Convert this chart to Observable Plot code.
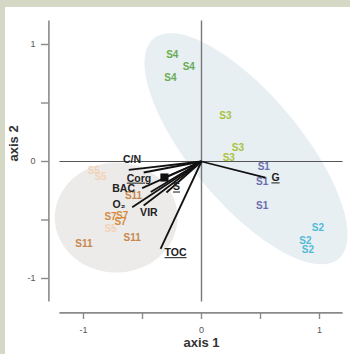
<!DOCTYPE html>
<html>
<head>
<meta charset="utf-8">
<script src="https://cdn.jsdelivr.net/npm/d3@7"></script>
<script src="https://cdn.jsdelivr.net/npm/@observablehq/plot@0.6"></script>
<style>
  html, body { margin: 0; padding: 0; width: 350px; height: 354px; overflow: hidden; background: #d5d8c4; }
  #panel { position: absolute; left: 5px; top: 7px; right: 0; bottom: 0; background: #ffffff; }
  #chart { position: absolute; left: 0; top: 0; }
  #chart svg { background: transparent; }
</style>
</head>
<body>
<div id="panel"></div>
<div id="chart"></div>
<script>
// ---- data ----
const sampleNames = ["S4","S4","S4","S3","S3","S3","S1","S1","S1","S2","S2","S2","S11","S11","S11","S7","S7","S7","S5","S5","S5"];
const sampleGroup = ["S4","S4","S4","S3","S3","S3","S1","S1","S1","S2","S2","S2","S11","S11","S11","S7","S7","S7","S5","S5","S5"];
const sampleX = [-0.248,-0.108,-0.263, 0.203,0.308,0.231, 0.528,0.514,0.514, 0.986,0.881,0.901, -0.576,-0.587,-0.997, -0.771,-0.672,-0.686, -0.913,-0.856,-0.771];
const sampleY = [0.912,0.806,0.715, 0.387,0.117,0.032, -0.049,-0.177,-0.382, -0.567,-0.675,-0.752, -0.291,-0.652,-0.703, -0.476,-0.462,-0.513, -0.077,-0.128,-0.575];
const groupNames = ["S4","S3","S1","S2","S11","S7","S5"];
const groupColors = ["#6aac52","#a8c23e","#6a6eae","#52b9d6","#c8874e","#d68a40","#f2d3b8"];

const vecX = [-0.616,-0.49,-0.314,-0.503,-0.43,-0.587,-0.49,-0.297,-0.347,0.542];
const vecY = [-0.071,-0.094,-0.137,-0.228,-0.26,-0.391,-0.376,-0.265,-0.746,-0.137];

const varNames = ["C/N","Corg","BAC","O₂","VIR","S","TOC","G"];
const varLabelX = [-0.589,-0.53,-0.66,-0.70,-0.446,-0.212,-0.22,0.627];
const varLabelY = [0.015,-0.143,-0.234,-0.371,-0.434,-0.219,-0.78,-0.141];
const varUnderlined = [false,true,false,false,false,true,true,true];

const squareX = [-0.314];
const squareY = [-0.137];

const ticks = [-1,-0.5,0,0.5,1];
const xLim = [-1.2, 1.2];
const yLim = [-1.2, 1.2];

// confidence ellipses: center, semi-axes, rotation (degrees)
const ellipseNames = ["right","left"];
const ellipseCX = [0.377,-0.723];
const ellipseCY = [0.109,-0.479];
const ellipseA = [1.225,0.52];
const ellipseB = [0.465,0.47];
const ellipseAngle = [-50.3,0];
const ellipseFill = ["#e8eff3","#ecebe9"];

// ---- build tables ----
const samples = sampleNames.map((s,i)=>({name:s, group:sampleGroup[i], x:sampleX[i], y:sampleY[i]}));
const vectors = vecX.map((x,i)=>({x, y:vecY[i]}));
const labels = varNames.map((n,i)=>({name:n, x:varLabelX[i], y:varLabelY[i], u:varUnderlined[i]}));
const ellipses = ellipseNames.map((n,k)=>{
  const th = ellipseAngle[k]*Math.PI/180, pts=[];
  for (let j=0;j<=90;j++){
    const t = j/90*2*Math.PI;
    pts.push({id:n,
      x: ellipseCX[k] + ellipseA[k]*Math.cos(th)*Math.cos(t) - ellipseB[k]*Math.sin(th)*Math.sin(t),
      y: ellipseCY[k] + ellipseA[k]*Math.sin(th)*Math.cos(t) + ellipseB[k]*Math.cos(th)*Math.sin(t)});
  }
  return {pts, fill: ellipseFill[k]};
});

const fmt = d => Number.isInteger(d) ? String(d) : "";
const labelFont = "Liberation Sans, Arial, Helvetica, sans-serif";

const plot = Plot.plot({
  width: 350,
  height: 354,
  marginLeft: 49,
  marginRight: 7,
  marginTop: 22,
  marginBottom: 41,
  style: {background: "transparent", fontFamily: labelFont, fontSize: "9px", color: "#555"},
  x: {domain: [-1, 1], range: [83, 319], axis: null},
  y: {domain: [-1, 1], range: [278, 44], axis: null},
  color: {domain: groupNames, range: groupColors},
  marks: [
    ...ellipses.map(e => Plot.line(e.pts, {x:"x", y:"y", fill: e.fill, stroke: "none", curve: "linear-closed"})),
    // axis lines (offset like R base graphics)
    Plot.ruleX([xLim[0]], {y1: yLim[0], y2: yLim[1], dx: -11, stroke: "#8a8a8a", strokeWidth: 1.6}),
    Plot.ruleY([yLim[0]], {x1: xLim[0], x2: xLim[1], dy: 11, stroke: "#8a8a8a", strokeWidth: 1.6}),
    Plot.axisY(ticks, {anchor: "left", tickSize: 8, tickPadding: 6, tickFormat: fmt, stroke: "#8a8a8a", strokeWidth: 1.4, label: null, fill: "#555", fontSize: 9}),
    Plot.axisX(ticks, {anchor: "bottom", tickSize: 6, tickPadding: 7, tickFormat: fmt, stroke: "#8a8a8a", strokeWidth: 1.4, label: null, fill: "#555", fontSize: 9}),
    // zero lines
    Plot.ruleY([0], {x1: xLim[0], x2: xLim[1], stroke: "#555", strokeWidth: 1.2}),
    Plot.ruleX([0], {y1: yLim[0], y2: yLim[1], stroke: "#777", strokeWidth: 1.4}),
    // sample labels
    Plot.text(samples, {x:"x", y:"y", text:"name", fill:"group", fontWeight:"bold", fontSize: 10, fontFamily: labelFont}),
    // variable vectors
    Plot.link(vectors, {x1: () => 0, y1: () => 0, x2:"x", y2:"y", stroke:"#111", strokeWidth: 1.8}),
    Plot.dot(squareX.map((x,i)=>({x, y:squareY[i]})), {x:"x", y:"y", symbol:"square", r: 4.6, fill:"#111", stroke:"none"}),
    Plot.text(labels.filter(d=>!d.u), {x:"x", y:"y", text:"name", fill:"#222", fontWeight:"bold", fontSize: 10.5, fontFamily: labelFont}),
    Plot.text(labels.filter(d=>d.u), {x:"x", y:"y", text:"name", fill:"#222", fontWeight:"bold", fontSize: 10.5, fontFamily: labelFont, ariaDescription: "underlined"}),
    // axis titles
    Plot.text([{t:"axis 1", x:0}], {x:"x", text:"t", frameAnchor:"bottom", dy: 33, fontWeight:"bold", fontSize: 13, fill:"#333", fontFamily: labelFont}),
    Plot.text([{t:"axis 2", y:0}], {y:"y", text:"t", frameAnchor:"left", dx: -36, rotate: -90, fontWeight:"bold", fontSize: 13, fill:"#333", fontFamily: labelFont})
  ]
});
d3.select(plot).selectAll('g[aria-description="underlined"] text').style("text-decoration", "underline");
document.getElementById("chart").appendChild(plot);
</script>
</body>
</html>
